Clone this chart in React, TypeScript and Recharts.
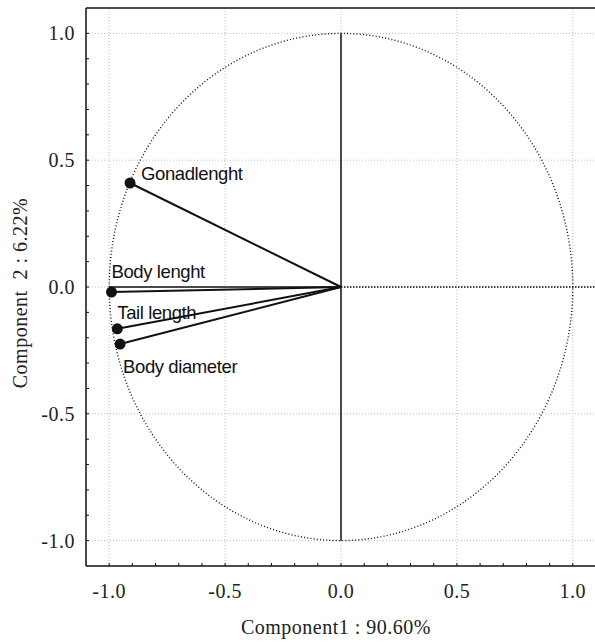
import React from 'react';
import {
  ScatterChart, Scatter, XAxis, YAxis, CartesianGrid, ReferenceLine,
} from 'recharts';

const variables = ['Gonadlenght', 'Body lenght', 'Tail length', 'Body diameter'];
const comp1 = [-0.91, -0.99, -0.965, -0.953];
const comp2 = [0.41, -0.02, -0.165, -0.225];
const majorTicks = [-1, -0.5, 0, 0.5, 1];
const minorTicks = [
  -1.0, -0.9, -0.8, -0.7, -0.6, -0.5, -0.4, -0.3, -0.2, -0.1, 0,
  0.1, 0.2, 0.3, 0.4, 0.5, 0.6, 0.7, 0.8, 0.9, 1.0,
];

// label placement relative to the marker, px
const labelOffset: Record<string, [number, number]> = {
  'Gonadlenght': [11, -3],
  'Body lenght': [0, -14],
  'Tail length': [0, -10],
  'Body diameter': [3, 29],
};

const points = variables.map((name, i) => ({ name, x: comp1[i], y: comp2[i] }));

// unit correlation circle
const circle = Array.from({ length: 181 }, (_, i) => {
  const a = (i * 2 * Math.PI) / 180;
  return { x: Math.cos(a), y: Math.sin(a) };
});

const serif = '"Liberation Serif", "Times New Roman", serif';
const sans = '"Liberation Sans", Arial, sans-serif';
const tickStyle = { fontFamily: serif, fontSize: 20, fill: '#222', letterSpacing: 0.5 };
const majorLabel = (v: number) => {
  const onMajor = majorTicks.some((m) => Math.abs(m - v) < 1e-6);
  return onMajor ? v.toFixed(1) : '';
};

const Marker = (p: any) => {
  const [dx, dy] = labelOffset[p.payload.name] || [0, 0];
  return (
    <g>
      <circle cx={p.cx} cy={p.cy} r={5.5} fill="#111" />
      <text x={p.cx + dx} y={p.cy + dy} fontFamily={sans} fontSize={18.5} fill="#111" letterSpacing={-0.4}>
        {p.payload.name}
      </text>
    </g>
  );
};

export default function App() {
  return (
    <div style={{ position: 'absolute', left: 0, top: 0, width: 595, height: 642, overflow: 'hidden', background: '#fff' }}>
      <ScatterChart width={600} height={642} margin={{ top: 7, right: 4, left: 0, bottom: 0 }}>
        <CartesianGrid stroke="#bbb" strokeDasharray="1 2" horizontalValues={majorTicks} verticalValues={majorTicks} />
        <XAxis xAxisId="top" orientation="top" type="number" dataKey="x" domain={[-1.1, 1.1]} ticks={minorTicks} height={1}
          interval={0} tick={false} tickSize={-3} axisLine={{ stroke: '#111', strokeWidth: 1.5 }} tickLine={{ stroke: '#111' }} />
        <XAxis type="number" dataKey="x" domain={[-1.1, 1.1]} ticks={minorTicks} height={76} interval={0}
          tickSize={-3} tickMargin={21} tick={tickStyle} tickFormatter={majorLabel}
          axisLine={{ stroke: '#111', strokeWidth: 1.5 }} tickLine={{ stroke: '#111' }} allowDataOverflow
          label={{
            content: (props: any) => {
              const vb = props.viewBox;
              return (
                <text x={vb.x + vb.width / 2 - 5} y={634} textAnchor="middle"
                  fontFamily={serif} fontSize={20} fill="#222" letterSpacing={0.5}>
                  Component1 : 90.60%
                </text>
              );
            },
          }} />
        <YAxis type="number" dataKey="y" domain={[-1.1, 1.1]} ticks={minorTicks} width={86} interval={0}
          tickSize={-3} tickMargin={14} tick={tickStyle} tickFormatter={majorLabel}
          axisLine={{ stroke: '#111', strokeWidth: 1.5 }} tickLine={{ stroke: '#111' }} allowDataOverflow
          label={{
            content: (props: any) => {
              const vb = props.viewBox;
              const cx = vb.x + 27;
              const cy = vb.y + vb.height / 2 + 6;
              return (
                <text x={cx} y={cy} transform={`rotate(-90 ${cx} ${cy})`} textAnchor="middle"
                  fontFamily={serif} fontSize={20} fill="#222" letterSpacing={0.5} style={{ whiteSpace: 'pre' }}>
                  Component  2 : 6.22%
                </text>
              );
            },
          }} />
        <ReferenceLine segment={[{ x: 0, y: -1 }, { x: 0, y: 1 }]} stroke="#111" strokeWidth={1.5} />
        <ReferenceLine segment={[{ x: 0, y: 0 }, { x: 1.1, y: 0 }]} stroke="#111" strokeWidth={1.3} strokeDasharray="1.5 1.5" />
        <ReferenceLine segment={[{ x: -1, y: 0 }, { x: 0, y: 0 }]} stroke="#111" strokeWidth={1.5} />
        {points.map((p) => (
          <ReferenceLine key={p.name} segment={[{ x: 0, y: 0 }, { x: p.x, y: p.y }]} stroke="#111" strokeWidth={2} />
        ))}
        <Scatter data={circle} line={{ stroke: '#111', strokeWidth: 1.4, strokeDasharray: '1 2.2' }} lineType="joint"
          shape={() => <g />} isAnimationActive={false} legendType="none" />
        <Scatter data={points} shape={Marker} isAnimationActive={false} legendType="none" />
      </ScatterChart>
    </div>
  );
}
